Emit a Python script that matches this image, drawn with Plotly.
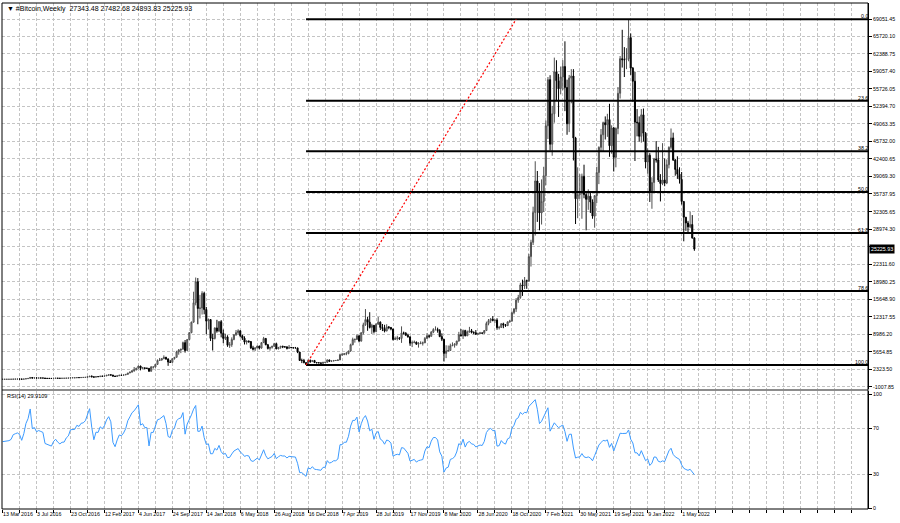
import numpy as np
import pandas as pd
import plotly.graph_objects as go

# ---------------- DATA (weekly bars, week starting Sunday) ----------------
# closes before the visible window (only used to seed RSI(14))
prior_close = [265, 260, 230, 228, 240, 230, 232, 235, 238, 246, 262, 283, 325, 385, 330, 325,
               365, 395, 450, 455, 420, 430, 448, 385, 400, 375, 375, 405, 438, 430, 410, 412]

close_2016 = [416, 417, 420, 421, 427, 450, 455, 459, 455, 440, 470, 537, 585, 762, 660, 675,
              650, 665, 660, 655, 590, 585, 581, 574, 607, 625, 610, 601, 612, 613, 640, 654,
              703, 705, 706, 741, 737, 766, 770, 791, 890, 998]
high_2016 = [420, 420, 425, 424, 431, 453, 468, 465, 461, 456, 475, 540, 590, 780, 770, 705,
             705, 678, 680, 665, 615, 600, 588, 585, 615, 630, 616, 612, 617, 620, 643, 655,
             720, 740, 742, 755, 750, 770, 775, 796, 935, 1005]
low_2016 = [405, 411, 412, 416, 419, 426, 440, 441, 448, 436, 437, 467, 535, 582, 550, 615,
            610, 645, 645, 640, 480, 570, 565, 568, 568, 602, 600, 590, 596, 605, 613, 626,
            650, 680, 695, 695, 728, 730, 755, 765, 788, 880]

close_2017 = [905, 820, 922, 920, 1012, 998, 1052, 1180, 1270, 1230, 1022, 965, 1085, 1190, 1180,
              1240, 1345, 1610, 1790, 2050, 2200, 2540, 2950, 2500, 2600, 2500, 2500, 1950, 2750,
              2750, 3250, 4000, 4100, 4350, 4600, 4300, 3700, 3650, 4350, 4600, 5650, 6000, 6150,
              7400, 5900, 8000, 9300, 11300, 15000, 19000, 13900, 14000, 16800]
high_2017 = [1160, 920, 935, 930, 1030, 1070, 1060, 1185, 1290, 1330, 1260, 1080, 1100, 1200, 1230,
             1245, 1350, 1620, 1850, 2100, 2760, 2580, 3000, 2980, 2770, 2630, 2650, 2560, 2950,
             2850, 3300, 4200, 4480, 4400, 4980, 4700, 4400, 4100, 4400, 4650, 5850, 6180, 6200,
             7600, 7900, 8050, 9400, 11400, 17100, 19800, 19700, 16500, 17200]
low_2017 = [780, 770, 815, 880, 915, 950, 990, 1045, 1165, 1110, 950, 890, 950, 1075, 1160,
            1170, 1235, 1340, 1600, 1700, 1850, 2140, 2450, 2120, 2480, 2330, 2380, 1850, 1880,
            2450, 2620, 3200, 3900, 3950, 4250, 4100, 2980, 3550, 3600, 4170, 4600, 5100, 5400,
            6100, 5500, 5850, 7900, 9200, 11200, 14500, 10900, 12000, 12750]

close_2018 = [13700, 11500, 11800, 8200, 8200, 10200, 9600, 11400, 9200, 8200, 8500, 6900, 7000,
              8000, 8900, 9300, 9650, 8700, 8250, 7500, 7700, 7600, 6400, 6150, 6400, 6750, 6350,
              7400, 8200, 7000, 6300, 6500, 6700, 7200, 6200, 6500, 6700, 6600, 6600, 6300, 6500,
              6450, 6400, 6400, 5600, 4000, 4000, 3600, 3250, 4000, 3800, 4000]
high_2018 = [17100, 14200, 12000, 11850, 9100, 10300, 11750, 11500, 11700, 9900, 9100, 8800, 7500,
             8400, 9000, 9800, 9950, 9750, 8900, 8600, 7800, 7800, 7700, 6800, 6500, 6800, 6800,
             7500, 8500, 8250, 7150, 6600, 6800, 7350, 7400, 6560, 6760, 6820, 6700, 6660, 6950,
             6520, 6470, 6580, 6420, 5600, 4350, 4300, 3620, 4200, 4200, 4080]
low_2018 = [12800, 9000, 9900, 7700, 5900, 8000, 9300, 9400, 8400, 7300, 7900, 6600, 6400,
            6600, 7850, 8700, 8950, 8400, 7900, 7050, 7050, 7350, 6200, 5900, 5780, 6330, 6100,
            6300, 7350, 6900, 6100, 5880, 6260, 6650, 6150, 6140, 6230, 6350, 6450, 6100, 6300,
            6380, 6280, 6340, 5400, 3900, 3500, 3450, 3150, 3220, 3550, 3700]

close_2019 = [3600, 3550, 3550, 3450, 3650, 3650, 4100, 3850, 3900, 4000, 4000, 4100, 5100, 5100,
              5300, 5300, 5800, 7000, 8000, 8000, 8700, 7700, 9300, 10800, 11800, 11300, 10300,
              10700, 9500, 10900, 11300, 10300, 10100, 9600, 10400, 10300, 10000, 8000, 8200, 8300,
              8200, 9250, 9200, 8800, 8500, 7300, 7400, 7500, 7100, 7250, 7300, 7350]
high_2019 = [4100, 3700, 3660, 3600, 3700, 3720, 4200, 4150, 3950, 4050, 4080, 4120, 5300, 5450,
             5350, 5650, 5850, 7200, 8350, 8200, 9000, 8800, 9350, 11200, 13800, 12300, 13200,
             11000, 10750, 11100, 12300, 11450, 10950, 10800, 10900, 10550, 10350, 10050, 8550, 8700,
             8450, 10500, 9500, 9400, 9100, 8600, 7800, 7800, 7600, 7500, 7650, 7600]
low_2019 = [3550, 3500, 3500, 3400, 3380, 3580, 3620, 3700, 3700, 3830, 3950, 3900, 4080, 4900,
            5050, 5000, 5200, 5650, 6900, 7400, 8000, 7450, 7600, 8950, 10600, 9650, 10100,
            9050, 9150, 9400, 10850, 9800, 9600, 9350, 9600, 9950, 9750, 7800, 7900, 7800,
            7900, 7350, 8950, 8700, 8350, 6800, 6550, 7300, 7000, 6450, 7100, 6850]

close_2020 = [8200, 8700, 8600, 9400, 9900, 9900, 9700, 8550, 8050, 5350, 5800, 5900, 6800, 6900,
              7100, 7700, 8900, 8700, 9700, 8700, 9450, 9650, 9350, 9300, 9000, 9100, 9250, 9200,
              9700, 11050, 11600, 11850, 11650, 11700, 10250, 10300, 11000, 10750, 10650, 11350,
              11500, 13100, 13800, 15500, 16000, 18400, 18200, 19200, 19150, 23800, 26500, 32200]
high_2020 = [8450, 9200, 8900, 9600, 10150, 10500, 10250, 9980, 9170, 8100, 6900, 6850, 7200, 7450,
             7300, 7750, 9450, 10000, 9900, 9850, 9700, 10400, 10000, 9550, 9800, 9300, 9450, 9300,
             9800, 11400, 11900, 12100, 12450, 11750, 12050, 10600, 11100, 11200, 10950, 11450,
             11750, 13350, 14000, 15900, 16500, 18800, 19400, 19900, 19400, 24300, 27000, 33300]
low_2020 = [7350, 8150, 8250, 8550, 9200, 9700, 9300, 8450, 7700, 3800, 4450, 5700, 5850, 6750,
            6450, 6800, 7600, 8600, 8100, 8600, 8650, 9300, 9150, 9000, 8850, 8900, 9050, 9100,
            9100, 9700, 10700, 11150, 11450, 11150, 9850, 9900, 10200, 10150, 10400, 10550,
            11200, 11400, 12800, 13250, 15000, 15750, 16300, 17600, 17650, 19000, 21900, 26000]

close_2021 = [38200, 36000, 32100, 34300, 39200, 48700, 57500, 45200, 51000, 59000, 57300, 55800,
              58000, 60000, 56000, 49100, 57800, 58200, 46400, 34800, 35600, 35800, 39100, 35600,
              34700, 35300, 34200, 31500, 35400, 39800, 44600, 47000, 49300, 48900, 49900, 44900,
              48300, 42700, 48200, 54900, 61500, 61300, 61300, 61500, 65500, 59700, 57200, 49400,
              49300, 46700, 50800, 47300]
high_2021 = [41950, 40100, 37800, 38500, 40900, 49700, 58000, 58350, 52500, 61700, 61200, 58600,
             60000, 61200, 64800, 57500, 58400, 59500, 59500, 46600, 40800, 39500, 39600, 41300,
             36000, 36600, 35900, 34700, 35500, 40900, 44800, 48100, 49500, 50500, 51000, 52900,
             48800, 48500, 48400, 56100, 62000, 67000, 63700, 63500, 69000, 66300, 59900, 59000,
             51900, 50500, 51900, 52000]
low_2021 = [27800, 30400, 28800, 29900, 32300, 37400, 46200, 44000, 43000, 49300, 53500, 50400,
            54700, 55500, 51500, 47000, 47500, 53000, 42100, 30000, 31100, 34800, 31000, 34900,
            28800, 32700, 32100, 31000, 29300, 34000, 37600, 43800, 43900, 46100, 46600, 42800,
            43400, 40000, 40800, 47100, 53900, 59800, 58000, 59500, 61000, 58400, 53300, 42000,
            46700, 45700, 45500, 45700]

close_2022 = [41800, 43100, 36300, 37900, 42400, 42200, 38400, 37700, 38400, 37800, 41300, 44600,
              46400, 42200, 40400, 39500, 38500, 34300, 31300, 30200, 29450, 29900, 27343.48, 25225.93]
high_2022 = [47500, 44400, 43500, 38900, 42600, 45800, 44700, 39500, 45400, 42500, 42300, 44800,
             48200, 47400, 42400, 42900, 40800, 39900, 34300, 31300, 30600, 32400, 31700, 27482.68]
low_2022 = [40600, 39600, 34200, 32900, 36300, 41700, 38000, 34300, 37400, 37200, 37600, 40600,
            44200, 42000, 39200, 38600, 37700, 33700, 26700, 28700, 28100, 29200, 27200, 24893.83]

# Fibonacci retracement anchors
fib_low_price = 3150
fib_high_price = 69000
fib_low_date = "2018-12-09"
fib_high_date = "2020-11-01"
fib_levels = [0.0, 23.6, 38.2, 50.0, 61.8, 78.6, 100.0]

# right price-scale labels
price_ticks = [69051.45, 65720.10, 62388.75, 59057.40, 55726.05, 52394.70, 49063.35, 45732.00,
               42400.65, 39069.30, 35737.95, 32305.65, 28974.30, 25642.95, 22311.60, 18980.25,
               15648.90, 12317.55, 8986.20, 5654.85, 2323.50, -1007.85]
rsi_ticks = [100, 70, 30, 0]

header_text = "\u25BC #Bitcoin,Weekly  27343.48 27482.68 24893.83 25225.93"
rsi_text = "RSI(14) 29.9109"
last_price = 25225.93

# ---------------- BUILD ----------------
close = close_2016 + close_2017 + close_2018 + close_2019 + close_2020 + close_2021 + close_2022
high = high_2016 + high_2017 + high_2018 + high_2019 + high_2020 + high_2021 + high_2022
low = low_2016 + low_2017 + low_2018 + low_2019 + low_2020 + low_2021 + low_2022
opens = [prior_close[-1]] + close[:-1]
high = [max(h, o, c) for h, o, c in zip(high, opens, close)]
low = [min(l, o, c) for l, o, c in zip(low, opens, close)]

base = pd.Timestamp("2016-03-13")
dates = pd.date_range(base, periods=len(close), freq="7D")


def rsi_wilder(values, n=14):
    v = np.asarray(values, dtype=float)
    d = np.diff(v)
    g = np.where(d > 0, d, 0.0)
    lo = np.where(d < 0, -d, 0.0)
    out = np.full(len(v), np.nan)
    ag, al = g[:n].mean(), lo[:n].mean()
    out[n] = 100 - 100 / (1 + ag / al) if al > 0 else 100
    for i in range(n + 1, len(v)):
        ag = (ag * (n - 1) + g[i - 1]) / n
        al = (al * (n - 1) + lo[i - 1]) / n
        out[i] = 100 - 100 / (1 + ag / al) if al > 0 else 100
    return out


rsi = rsi_wilder(prior_close + close)[len(prior_close):]

# geometry
W, H = 900, 523
ML, MR, MT, MB = 2, 32, 3, 14
px_week = 2.122
first_bar_px = 2.6
plot_w = W - ML - MR
x_left = base + pd.Timedelta(days=(ML - first_bar_px) / px_week * 7)
x_right = base + pd.Timedelta(days=(ML + plot_w - first_bar_px) / px_week * 7)

main_dom = [0.2372, 1.0]
rsi_dom = [0.0, 0.2332]

grid_col = "#C4C4C4"
grid_dash = "3px,2px"
font_fam = "Liberation Sans, Arial, sans-serif"
axis_fs = 5.3

xt_vals = [base + pd.Timedelta(weeks=8 * k) for k in range(0, 52)]
xt_text = [(d.strftime("%-d %b %Y") if (k % 2 == 0 and d <= dates[-1]) else "")
           for k, d in enumerate(xt_vals)]

fig = go.Figure()
fig.add_trace(go.Candlestick(
    x=dates, open=opens, high=high, low=low, close=close,
    xaxis="x", yaxis="y", whiskerwidth=0,
    increasing=dict(line=dict(color="#505050", width=1), fillcolor="#B0B0B0"),
    decreasing=dict(line=dict(color="#000000", width=1), fillcolor="#000000"),
    showlegend=False, hoverinfo="skip"))

fig.add_trace(go.Scatter(
    x=dates, y=rsi, xaxis="x2", yaxis="y2", mode="lines",
    line=dict(color="#3C9BFF", width=1), showlegend=False, hoverinfo="skip"))

shapes = []
fib_end = x_right
for p in fib_levels:
    lvl = fib_high_price - p / 100.0 * (fib_high_price - fib_low_price)
    shapes.append(dict(type="line", xref="x", yref="y", x0=fib_low_date, x1=fib_end,
                       y0=lvl, y1=lvl, line=dict(color="#000000", width=2)))
shapes.append(dict(type="line", xref="x", yref="y", x0=fib_low_date, y0=fib_low_price,
                   x1=fib_high_date, y1=fib_high_price,
                   line=dict(color="#FF0000", width=1.2, dash="2px,2px")))
# window separator
shapes.append(dict(type="line", xref="paper", yref="paper", x0=0, x1=1,
                   y0=main_dom[0] - 0.002, y1=main_dom[0] - 0.002,
                   line=dict(color="#8C8C8C", width=2)))
# frame
shapes.append(dict(type="rect", xref="paper", yref="paper", x0=0, x1=1, y0=0, y1=1,
                   line=dict(color="#000000", width=1)))

annotations = []
for p in fib_levels:
    lvl = fib_high_price - p / 100.0 * (fib_high_price - fib_low_price)
    annotations.append(dict(xref="x", yref="y", x=fib_end, y=lvl, text=f"{p:.1f}",
                            xanchor="right", yanchor="bottom", showarrow=False, xshift=2, yshift=-2,
                            font=dict(size=axis_fs, color="#000000", family=font_fam)))
annotations.append(dict(xref="paper", yref="paper", x=0.003, y=1.0, text=header_text,
                        xanchor="left", yanchor="top", showarrow=False,
                        font=dict(size=7, color="#000000", family=font_fam)))
annotations.append(dict(xref="paper", yref="y2 domain", x=0.003, y=1.0, text=rsi_text,
                        xanchor="left", yanchor="top", showarrow=False,
                        font=dict(size=5.5, color="#000000", family=font_fam)))
annotations.append(dict(xref="paper", yref="y", x=1.0, y=last_price, text=f"{last_price:.2f}",
                        xanchor="left", yanchor="middle", showarrow=False, xshift=1,
                        bgcolor="#000000", borderpad=1,
                        font=dict(size=axis_fs, color="#FFFFFF", family=font_fam)))

price_text = [("" if abs(v - 25642.95) < 1e-6 else f"{v:.2f}") for v in price_ticks]

common_x = dict(type="date", range=[x_left, x_right], tickmode="array", tickvals=xt_vals,
                showgrid=True, gridcolor=grid_col, griddash=grid_dash, gridwidth=1,
                zeroline=False, showline=False, fixedrange=True, automargin=False)

fig.update_layout(
    width=W, height=H,
    margin=dict(l=ML, r=MR, t=MT, b=MB, autoexpand=False),
    paper_bgcolor="#FFFFFF", plot_bgcolor="#FFFFFF",
    font=dict(family=font_fam, size=6, color="#000000"),
    showlegend=False,
    xaxis=dict(common_x, anchor="y", domain=[0, 1], showticklabels=False,
               rangeslider=dict(visible=False)),
    xaxis2=dict(common_x, anchor="y2", domain=[0, 1], ticktext=xt_text,
                showticklabels=True, ticks="outside", ticklen=3, tickcolor="#000000",
                ticklabelposition="outside right", tickangle=0,
                tickfont=dict(size=axis_fs, color="#000000", family=font_fam)),
    yaxis=dict(domain=main_dom, anchor="x", side="right", range=[-1429, 72103],
               tickmode="array", tickvals=price_ticks, ticktext=price_text,
               ticks="outside", ticklen=3, tickcolor="#000000", automargin=False,
               showgrid=True, gridcolor=grid_col, griddash=grid_dash, gridwidth=1,
               zeroline=False, showline=True, linecolor="#000000", linewidth=1,
               tickfont=dict(size=axis_fs, color="#000000", family=font_fam), fixedrange=True),
    yaxis2=dict(domain=rsi_dom, anchor="x2", side="right", range=[-0.6, 102.9],
                tickmode="array", tickvals=rsi_ticks, ticktext=[str(v) for v in rsi_ticks],
                ticks="outside", ticklen=3, tickcolor="#000000", automargin=False,
                showgrid=True, gridcolor=grid_col, griddash=grid_dash, gridwidth=1,
                zeroline=False, showline=True, linecolor="#000000", linewidth=1,
                tickfont=dict(size=axis_fs, color="#000000", family=font_fam), fixedrange=True),
    shapes=shapes, annotations=annotations,
)

fig.write_html("out.html", config={"displayModeBar": False},
               post_script="document.body.style.margin='0';document.body.style.padding='0';")
